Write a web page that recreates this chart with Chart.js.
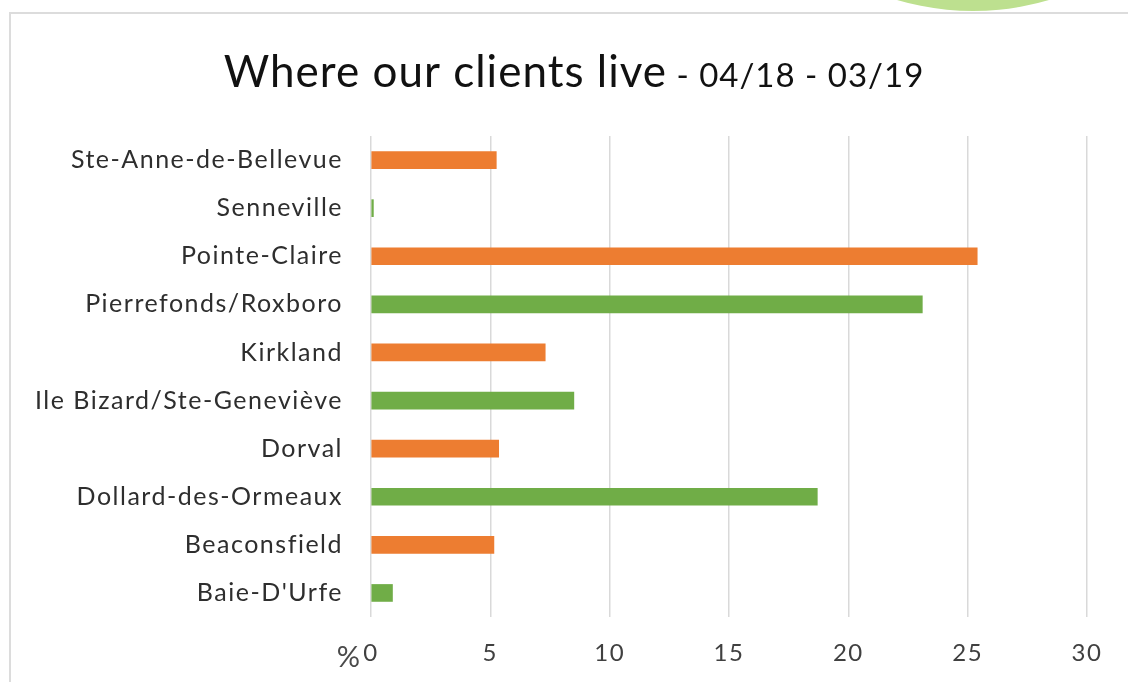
<!DOCTYPE html>
<html>
<head>
<meta charset="utf-8">
<script src="https://cdn.jsdelivr.net/npm/chart.js@4.4.0/dist/chart.umd.min.js"></script>
<style>
  html, body { margin: 0; padding: 0; background: #fff; overflow: hidden; }
  #wrap { position: relative; width: 1128px; height: 682px; overflow: hidden; }
  #frame { position: absolute; left: 9px; top: 12px; width: 1200px; height: 700px; border: 2px solid #dcdcdc; box-sizing: border-box; }
  #blob { position: absolute; left: 705px; top: -525px; width: 536px; height: 536px; border-radius: 50%; background: #bde08f; }
  canvas { position: absolute; left: 0; top: 0; }
</style>
</head>
<body>
<div id="wrap">
  <div id="frame"></div>
  <div id="blob"></div>
  <canvas id="bar-chart" width="1128" height="682"></canvas>
</div>
<script>
var places = ["Ste-Anne-de-Bellevue", "Senneville", "Pointe-Claire", "Pierrefonds/Roxboro", "Kirkland",
    "Ile Bizard/Ste-Geneviève", "Dorval", "Dollard-des-Ormeaux", "Beaconsfield", "Baie-D'Urfe"];
var percents = [5.25, 0.1, 25.4, 23.1, 7.3, 8.5, 5.35, 18.7, 5.15, 0.9];
var xTicks = [0, 5, 10, 15, 20, 25, 30];
var titleMain = "Where our clients live";
var titleDates = " - 04/18 - 03/19";

var barColors = [];
for (var i = 0; i < places.length; ++i) {
    barColors.push(i % 2 == 0 ? "#ED7D31" : "#70AD47");
}

var titlePlugin = {
    id: 'twoPartTitle',
    beforeDraw: function (chart) {
        // loose letter spacing like the Excel rendering
        chart.ctx.letterSpacing = "1.5px";
    },
    afterDraw: function (chart) {
        var ctx = chart.ctx;
        ctx.save();
        ctx.letterSpacing = "1px";
        ctx.fillStyle = "#111111";
        ctx.textBaseline = "alphabetic";
        ctx.font = "44px Lato";
        var w1 = ctx.measureText(titleMain).width;
        ctx.font = "33px Lato";
        var w2 = ctx.measureText(titleDates).width;
        var x = 574 - (w1 + w2) / 2;
        ctx.font = "44px Lato";
        ctx.fillText(titleMain, x, 87);
        ctx.font = "33px Lato";
        ctx.fillText(titleDates, x + w1, 87);
        // unit label left of the zero tick
        ctx.letterSpacing = "0px";
        ctx.font = "29px Lato";
        ctx.fillStyle = "#4a4a4a";
        ctx.textAlign = "right";
        ctx.fillText("%", chart.chartArea.left - 11, 667);
        ctx.restore();
    }
};

new Chart(document.getElementById("bar-chart"), {
    type: 'bar',
    data: {
        labels: places,
        datasets: [{
            label: "Clients",
            data: percents,
            backgroundColor: barColors,
            barThickness: 17
        }]
    },
    options: {
        indexAxis: 'y',
        responsive: false,
        animation: false,
        layout: { padding: { top: 136, right: 41, left: 0, bottom: 0 } },
        plugins: {
            legend: { display: false },
            tooltip: { enabled: false }
        },
        scales: {
            x: {
                min: 0,
                max: 30,
                afterBuildTicks: function (scale) {
                    scale.ticks = xTicks.map(function (v) { return { value: v }; });
                },
                afterFit: function (scale) { scale.height = 65; },
                grid: { color: "#d9d9d9", lineWidth: 1.5, drawTicks: false },
                border: { display: false },
                ticks: {
                    padding: 22,
                    color: "#404040",
                    font: { family: "Lato", size: 24 }
                }
            },
            y: {
                afterFit: function (scale) { scale.width = 371; },
                grid: { display: false },
                border: { display: false },
                ticks: {
                    padding: 20,
                    color: "#2e2e2e",
                    font: { family: "Lato", size: 25 }
                }
            }
        }
    },
    plugins: [titlePlugin]
});
</script>
</body>
</html>
